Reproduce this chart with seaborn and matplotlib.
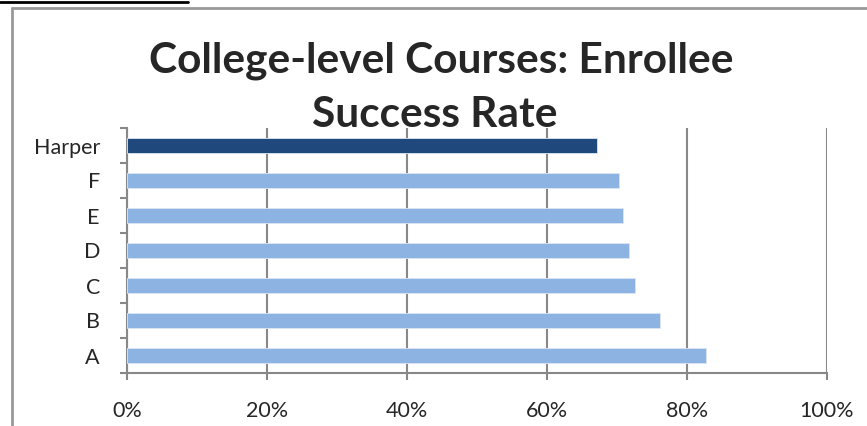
import matplotlib
matplotlib.use("Agg")
import matplotlib.pyplot as plt
import seaborn as sns
import pandas as pd
from matplotlib.lines import Line2D
from matplotlib.ticker import PercentFormatter, FixedLocator

# data
colleges = ["Harper", "F", "E", "D", "C", "B", "A"]
success_rate = [67.1, 70.3, 70.9, 71.7, 72.5, 76.1, 82.7]
bar_colors = ["#1F497D", "#8DB3E2", "#8DB3E2", "#8DB3E2", "#8DB3E2", "#8DB3E2", "#8DB3E2"]

df = pd.DataFrame({"College": colleges, "Rate": success_rate})

sns.set_style("white")
plt.rcParams["font.family"] = ["Lato", "DejaVu Sans"]

fig = plt.figure(figsize=(8.67, 4.26), dpi=100)
ax = fig.add_axes([127 / 867, 1 - 373 / 426, 700 / 867, 245 / 426])

sns.barplot(data=df, x="Rate", y="College", hue="College", order=colleges,
            palette=dict(zip(colleges, bar_colors)), legend=False, saturation=1,
            width=0.44, edgecolor="#DCE6F2", linewidth=0.6, ax=ax, zorder=3)

ax.set_xlim(0, 100)
ax.set_ylim(6.5, -0.5)
ax.set_xticks([0, 20, 40, 60, 80, 100])
ax.xaxis.set_major_formatter(PercentFormatter(decimals=0))
ax.grid(axis="x", color="#888888", linewidth=1.5, zorder=0)
ax.grid(axis="y", visible=False)
ax.set_xlabel("")
ax.set_ylabel("")

for s in ["top", "right"]:
    ax.spines[s].set_visible(False)
for s in ["left", "bottom"]:
    ax.spines[s].set_color("#888888")
    ax.spines[s].set_linewidth(1.5)

# excel style ticks between categories
ax.yaxis.set_minor_locator(FixedLocator([i - 0.5 for i in range(8)]))
ax.tick_params(axis="y", which="major", length=0, pad=19.5, labelsize=15.5)
ax.tick_params(axis="y", which="minor", left=True, length=5, width=1.5, color="#888888")
ax.tick_params(axis="x", which="major", bottom=True, length=5, width=1.5,
               color="#888888", pad=15, labelsize=15.5)

fig.text(441 / 867, 1 - 61 / 426, "College-level Courses: Enrollee",
         ha="center", va="center", fontsize=30.5, fontweight="bold")
fig.text(435 / 867, 1 - 115 / 426, "Success Rate",
         ha="center", va="center", fontsize=30.5, fontweight="bold", zorder=5)

# chart frame and the cut-off heading underline
fig.add_artist(Line2D([12 / 867, 12 / 867], [0, 1 - 8 / 426], transform=fig.transFigure,
                      color="#999999", linewidth=2))
fig.add_artist(Line2D([12 / 867, 1], [1 - 8 / 426, 1 - 8 / 426], transform=fig.transFigure,
                      color="#999999", linewidth=2))
fig.add_artist(Line2D([0, 188 / 867], [1 - 2 / 426, 1 - 2 / 426], transform=fig.transFigure,
                      color="black", linewidth=2))

fig.savefig("out.png", dpi=100)
